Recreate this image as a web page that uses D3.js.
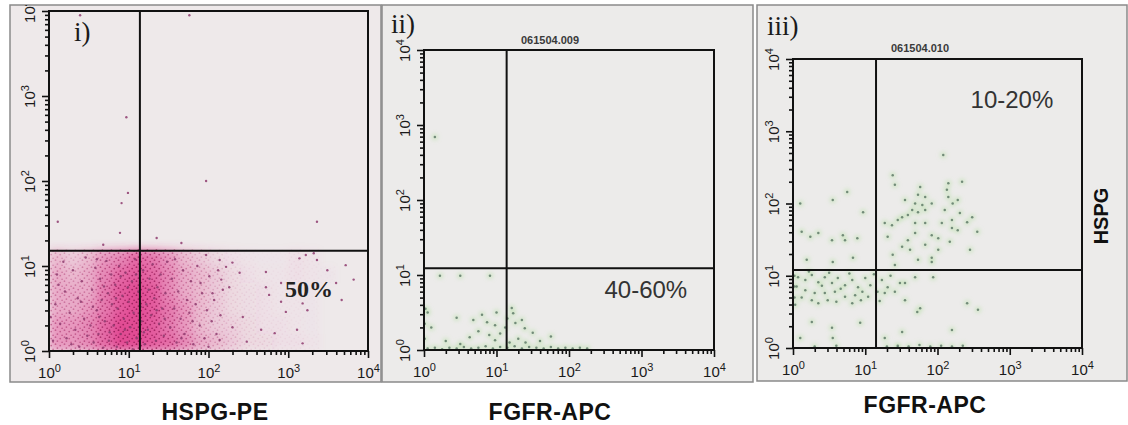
<!DOCTYPE html>
<html>
<head>
<meta charset="utf-8">
<script src="https://cdn.jsdelivr.net/npm/d3@7"></script>
<style>
  body { margin: 0; background: #fff; }
  svg { display: block; }
</style>
</head>
<body>
<div id="chart"></div>
<script>
// tick values and labels
let decades = [1, 10, 100, 1000, 10000]
let panelTags = ['i)', 'ii)', 'iii)']
let fileIds = ['', '061504.009', '061504.010']
let xTitles = ['HSPG-PE', 'FGFR-APC', 'FGFR-APC']
let yTitle = 'HSPG'
let quadrantLabels = ['50%', '40-60%', '10-20%']

// quadrant gates, fluorescence intensity
let gateX = [13.8, 13.8, 14.1]
let gateY = [15.1, 12.3, 12.0]

// panel i) event density, bins of 0.2 decade; rows go up from 10^0, columns go right from 10^0
let hspgDensity = [
  [5, 5, 6, 8, 10, 10, 9, 8, 6, 4, 3, 2, 1, 1, 0.5, 0.5, 0.3, 0, 0, 0],
  [5, 5, 6, 8, 10, 10, 9, 7, 5, 3, 2, 1.5, 1, 0.5, 0.5, 0.3, 0.2, 0, 0, 0],
  [4, 4, 5, 7, 9, 10, 9, 7, 5, 3, 2, 1, 0.8, 0.5, 0.3, 0.3, 0.2, 0, 0, 0],
  [4, 4, 4, 7, 9, 10, 9, 6, 4, 3, 2, 1, 0.8, 0.5, 0.3, 0.3, 0.2, 0, 0, 0],
  [4, 3, 4, 6, 8, 9, 8, 6, 4, 3, 2, 1, 0.5, 0.3, 0.3, 0.5, 0.3, 0.2, 0, 0],
  [3, 2, 3, 5, 6, 8, 7, 5, 3, 2, 1, 0.5, 0.3, 0.2, 0.2, 0.5, 0.3, 0, 0, 0]
]

// single events, as [log10 x, log10 y]
let hspgDots = [
  [0.05, 0.12], [0.08, 0.55], [0.1, 0.9], [0.14, 0.32], [0.18, 1.05], [0.2, 0.7], [0.22, 0.15], [0.26, 0.45],
  [0.3, 0.95], [0.33, 0.25], [0.36, 0.62], [0.38, 0.05], [0.41, 0.82], [0.44, 0.38], [0.46, 1.1], [0.48, 0.18],
  [0.12, 0.78], [0.28, 0.08], [0.4, 0.58], [0.02, 0.4],
  [0.52, 0.3], [0.54, 0.72], [0.56, 0.1], [0.58, 0.98], [0.6, 0.48], [0.62, 0.2], [0.64, 0.85], [0.66, 0.6],
  [0.68, 0.04], [0.7, 0.35], [0.72, 1.06], [0.74, 0.68], [0.76, 0.22], [0.78, 0.9], [0.55, 0.52], [0.63, 0.4],
  [0.69, 0.76], [0.75, 0.12], [0.79, 0.55], [0.6, 1.08],
  [0.81, 0.3], [0.83, 0.78], [0.85, 0.05], [0.86, 0.5], [0.88, 1.0], [0.9, 0.2], [0.92, 0.65], [0.94, 0.38],
  [0.96, 0.92], [0.98, 0.1], [1.0, 0.58], [1.02, 0.28], [1.04, 0.82], [1.06, 0.45], [1.08, 1.08], [1.1, 0.15],
  [1.12, 0.7], [1.16, 0.35], [1.18, 0.95], [1.2, 0.08], [1.22, 0.55], [1.24, 0.25], [1.26, 0.85], [1.28, 0.42],
  [1.3, 1.02], [1.32, 0.62], [1.34, 0.12], [1.36, 0.75], [1.38, 0.32], [1.4, 0.9], [1.42, 0.5], [1.44, 0.18],
  [1.46, 0.68], [1.48, 1.05], [0.84, 0.62], [0.9, 0.88], [0.95, 0.25], [1.05, 0.02], [1.15, 0.52], [1.25, 0.72],
  [1.35, 0.48], [1.45, 0.38], [0.99, 0.75], [1.09, 0.9], [1.19, 0.22],
  [1.52, 0.28], [1.54, 0.85], [1.57, 0.5], [1.6, 0.1], [1.62, 0.7], [1.65, 0.38], [1.68, 0.95], [1.7, 0.2],
  [1.73, 0.6], [1.76, 0.45], [1.78, 0.82], [1.81, 0.08], [1.84, 0.55], [1.86, 1.0], [1.89, 0.3], [1.92, 0.68],
  [1.95, 0.15], [1.98, 0.48], [2.01, 0.88], [2.04, 0.35], [2.07, 0.6], [2.1, 0.2], [2.12, 0.95], [2.15, 0.42],
  [1.58, 1.08], [1.66, 0.15], [1.8, 0.35], [1.9, 0.8], [2.0, 0.05], [2.18, 0.72],
  [2.3, 1.04], [2.22, 0.99], [2.39, 0.92], [2.16, 0.84], [2.72, 0.93], [2.76, 0.66], [2.91, 0.58], [2.97, 0.46],
  [3.14, 1.09], [3.22, 1.13], [3.32, 1.15], [3.36, 1.07], [3.49, 0.95], [3.6, 0.8], [3.72, 1.01], [3.82, 0.84],
  [3.67, 0.6], [3.18, 0.56], [3.24, 0.48], [3.11, 0.25], [2.66, 0.25], [2.83, 0.21], [2.72, 0.75], [2.91, 0.8],
  [3.18, 0.09], [1.97, 1.13], [2.14, 1.07], [2.26, 0.75], [2.05, 0.68], [2.43, 0.4], [2.3, 0.28], [2.14, 0.13],
  [2.48, 0.11],
  [0.39, 3.95], [1.76, 3.95], [0.97, 2.75], [1.97, 2.0], [0.99, 1.86], [0.91, 1.74], [0.11, 1.52], [0.89, 1.39],
  [1.35, 1.33], [1.66, 1.27], [0.68, 1.25], [3.36, 1.52]
]

let fgfrDotsA = [
  [0.05, 0.02], [0.15, 0.03], [0.25, 0.01], [0.35, 0.03], [0.45, 0.02], [0.55, 0.04], [0.65, 0.02], [0.75, 0.03],
  [0.85, 0.05], [0.95, 0.02], [1.05, 0.04], [1.15, 0.03], [1.25, 0.05], [1.35, 0.02], [1.45, 0.04], [1.55, 0.03],
  [1.65, 0.02], [1.75, 0.04], [1.85, 0.02], [1.95, 0.03], [2.05, 0.02], [2.15, 0.03], [2.25, 0.02],
  [0.45, 0.43], [0.8, 0.47], [0.87, 0.37], [0.68, 0.4], [0.98, 0.33], [1.21, 0.56], [1.23, 0.49], [1.26, 0.36],
  [1.39, 0.29], [1.5, 0.23], [0.63, 0.17], [0.98, 0.13], [1.05, 0.22], [0.75, 0.25], [1.12, 0.3], [1.3, 0.15],
  [1.18, 0.1], [0.9, 0.2], [1.6, 0.12], [1.75, 0.18], [0.3, 0.12], [0.5, 0.08], [1.15, 0.42], [1.0, 0.5],
  [1.35, 0.4], [1.4, 0.1], [0.1, 0.3], [0.05, 0.5],
  [0.01, 0.15], [0.01, 0.35], [0.02, 0.55],
  [0.22, 0.99], [0.5, 0.99], [0.91, 0.99], [0.15, 2.84]
]

let fgfrDotsB = [
  [1.41, 2.26], [1.76, 2.23], [2.15, 2.28], [2.34, 2.3], [1.73, 2.12], [1.83, 2.09], [2.13, 2.19], [2.15, 2.09],
  [2.28, 2.05], [2.21, 2.0], [1.55, 2.05], [1.69, 2.0], [1.79, 1.98], [1.92, 2.0], [1.65, 1.91], [1.73, 1.88],
  [1.83, 1.91], [1.51, 1.81], [1.59, 1.84], [2.1, 1.91], [2.31, 1.87], [2.48, 1.81], [1.27, 1.73], [1.37, 1.7],
  [1.45, 1.77], [1.69, 1.73], [1.83, 1.73], [2.06, 1.73], [2.2, 1.77], [2.41, 1.74], [2.2, 1.66], [2.28, 1.63],
  [2.55, 1.61], [1.31, 1.54], [1.69, 1.59], [1.92, 1.56], [2.01, 1.52], [2.17, 1.47], [1.59, 1.49], [1.51, 1.4],
  [1.62, 1.36], [1.83, 1.43], [2.01, 1.36], [2.45, 1.36], [1.38, 1.29], [1.73, 1.22], [1.92, 1.25], [1.92, 1.19],
  [1.41, 1.15], [2.08, 2.67], [1.38, 2.39],
  [0.75, 2.16], [0.55, 2.05], [0.97, 1.88], [0.24, 1.54], [0.12, 1.61], [0.35, 1.59], [0.54, 1.49], [0.69, 1.56],
  [0.89, 1.52], [0.72, 1.49], [0.1, 2.0], [0.19, 1.22], [0.55, 1.19], [0.83, 1.25],
  [0.07, 0.98], [0.17, 0.94], [0.26, 1.01], [0.35, 0.91], [0.44, 0.98], [0.54, 0.9], [0.62, 0.97], [0.72, 0.87],
  [0.82, 0.94], [0.9, 0.84], [1.0, 0.97], [1.07, 0.87], [1.23, 0.94], [1.31, 0.84], [1.41, 0.78], [1.48, 0.9],
  [0.17, 0.8], [0.3, 0.76], [0.44, 0.76], [0.58, 0.78], [0.72, 0.71], [0.86, 0.73], [0.96, 0.78], [0.48, 0.66],
  [0.26, 0.66], [0.82, 0.62], [1.04, 0.71], [1.27, 0.76], [1.55, 0.66],
  [0.05, 0.85], [0.12, 0.7], [0.22, 1.06], [0.4, 0.86], [0.5, 1.04], [0.66, 0.82], [0.78, 1.03], [0.94, 0.66],
  [1.12, 1.02], [1.17, 0.78], [1.35, 1.0], [0.35, 0.62], [0.6, 0.64], [1.2, 0.65],
  [0.26, 0.36], [0.54, 0.28], [0.93, 0.35], [0.1, 0.14], [0.55, 0.14], [1.27, 0.14], [1.51, 0.22], [1.72, 0.5],
  [1.76, 0.55], [1.94, 0.98], [2.2, 0.25], [2.41, 0.62], [2.56, 0.53], [1.69, 0.98], [1.55, 0.9], [1.45, 0.01],
  [1.3, 0.02], [1.45, 0.03], [1.6, 0.02], [1.75, 0.04], [1.9, 0.02], [2.05, 0.03], [2.2, 0.02], [2.35, 0.03],
  [0.3, 0.02], [0.6, 0.03],
  [0.02, 0.7], [0.02, 0.85], [0.02, 1.0], [0.03, 0.6]
]

// page layout
let width = 1128
let height = 425

let panels = [
  {
    frame: { x: 10, y: 5, w: 371, h: 377 },
    plot: { left: 49, top: 11, right: 368, bottom: 351 },
    bg: '#eee9ea',
    tag: { x: 74, y: 41 },
    quad: { x: 10 ** 3.26, y: 10 ** 0.635 },
    quadStyle: 'serif',
    title: { x: 215, y: 420 },
    dots: hspgDots,
    density: hspgDensity,
    color: 'pink'
  },
  {
    frame: { x: 382, y: 5, w: 371, h: 377 },
    plot: { left: 424, top: 50, right: 714, bottom: 350 },
    bg: '#ecebea',
    tag: { x: 391, y: 33 },
    id: { x: 550, y: 44 },
    quad: { x: 10 ** 3.06, y: 10 ** 0.69 },
    title: { x: 550, y: 420 },
    dots: fgfrDotsA,
    color: 'green'
  },
  {
    frame: { x: 757, y: 5, w: 370, h: 376 },
    plot: { left: 793, top: 59, right: 1082, bottom: 348 },
    bg: '#ecebea',
    tag: { x: 767, y: 35 },
    id: { x: 920, y: 52 },
    quad: { x: 10 ** 3.03, y: 10 ** 3.32 },
    title: { x: 925, y: 413 },
    dots: fgfrDotsB,
    color: 'green'
  }
]

let svg = d3
  .select('#chart')
  .append('svg')
  .attr('width', width)
  .attr('height', height)

let defs = svg.append('defs')

defs
  .append('filter')
  .attr('id', 'haze')
  .attr('x', '-20%')
  .attr('y', '-20%')
  .attr('width', '140%')
  .attr('height', '140%')
  .append('feGaussianBlur')
  .attr('stdDeviation', 4)

defs
  .append('filter')
  .attr('id', 'glow')
  .append('feGaussianBlur')
  .attr('stdDeviation', 2.2)

// speckle texture for the dense pink cloud
let speck = defs
  .append('pattern')
  .attr('id', 'speck')
  .attr('patternUnits', 'userSpaceOnUse')
  .attr('width', 9)
  .attr('height', 7)
speck.append('circle').attr('cx', 1.5).attr('cy', 1.2).attr('r', 0.9).attr('fill', '#a0225f')
speck.append('circle').attr('cx', 6.2).attr('cy', 2.6).attr('r', 0.9).attr('fill', '#a0225f')
speck.append('circle').attr('cx', 3.4).attr('cy', 5.1).attr('r', 0.9).attr('fill', '#a0225f')
speck.append('circle').attr('cx', 8.1).attr('cy', 6.3).attr('r', 0.8).attr('fill', '#a0225f')

function superscript(sel, exp, size) {
  sel.text(null)
  sel.append('tspan').text('10')
  sel
    .append('tspan')
    .attr('dy', -6)
    .attr('font-size', size)
    .text(exp)
}

panels.forEach((p, i) => {
  let g = svg.append('g').attr('class', 'panel')

  g.append('rect')
    .attr('x', p.frame.x)
    .attr('y', p.frame.y)
    .attr('width', p.frame.w)
    .attr('height', p.frame.h)
    .attr('fill', p.bg)
    .attr('stroke', '#8a8a8a')
    .attr('stroke-width', 1.5)

  let clipId = 'clip-' + i
  defs
    .append('clipPath')
    .attr('id', clipId)
    .append('rect')
    .attr('x', p.plot.left)
    .attr('y', p.plot.top)
    .attr('width', p.plot.right - p.plot.left)
    .attr('height', p.plot.bottom - p.plot.top)

  let frameClip = 'frameclip-' + i
  defs
    .append('clipPath')
    .attr('id', frameClip)
    .append('rect')
    .attr('x', p.frame.x)
    .attr('y', p.frame.y)
    .attr('width', p.frame.w)
    .attr('height', p.frame.h)

  let x = d3
    .scaleLog()
    .domain([1, 10000])
    .range([p.plot.left, p.plot.right])
  let y = d3
    .scaleLog()
    .domain([1, 10000])
    .range([p.plot.bottom, p.plot.top])

  let data = g.append('g').attr('clip-path', `url(#${clipId})`)

  // density haze (panel i only)
  if (p.density) {
    let cells = []
    p.density.forEach((row, r) => {
      row.forEach((v, c) => {
        if (v > 0) cells.push({ r, c, v })
      })
    })
    let cellX = d => x(10 ** (d.c * 0.2))
    let cellY = d => y(10 ** ((d.r + 1) * 0.2))
    let cellW = d => x(10 ** ((d.c + 1) * 0.2)) - x(10 ** (d.c * 0.2))
    let cellH = d => y(10 ** (d.r * 0.2)) - y(10 ** ((d.r + 1) * 0.2))

    data
      .append('g')
      .attr('filter', 'url(#haze)')
      .selectAll('rect')
      .data(cells)
      .enter()
      .append('rect')
      .attr('x', cellX)
      .attr('y', cellY)
      .attr('width', cellW)
      .attr('height', cellH)
      .attr('fill', '#e0388a')
      .attr('fill-opacity', d => Math.min(0.9, d.v * 0.09))

    data
      .append('g')
      .selectAll('rect')
      .data(cells)
      .enter()
      .append('rect')
      .attr('x', cellX)
      .attr('y', cellY)
      .attr('width', cellW)
      .attr('height', cellH)
      .attr('fill', 'url(#speck)')
      .attr('fill-opacity', d => Math.min(1, d.v * 0.1))
  }

  let pts = p.dots.map(d => ({ x: 10 ** d[0], y: 10 ** d[1] }))

  if (p.color === 'green') {
    data
      .append('g')
      .attr('filter', 'url(#glow)')
      .selectAll('circle')
      .data(pts)
      .enter()
      .append('circle')
      .attr('cx', d => x(d.x))
      .attr('cy', d => y(d.y))
      .attr('r', 3)
      .attr('fill', '#a3dc8f')
      .attr('fill-opacity', 0.45)
  }

  data
    .append('g')
    .selectAll('circle')
    .data(pts)
    .enter()
    .append('circle')
    .attr('cx', d => x(d.x))
    .attr('cy', d => y(d.y))
    .attr('r', p.color === 'green' ? 1.25 : 1.2)
    .attr('fill', p.color === 'green' ? '#5f7a68' : '#8e3b6e')
    .attr('fill-opacity', 0.85)

  // quadrant gates
  g.append('line')
    .attr('x1', x(gateX[i]))
    .attr('x2', x(gateX[i]))
    .attr('y1', p.plot.top)
    .attr('y2', p.plot.bottom)
    .attr('stroke', '#111')
    .attr('stroke-width', 2)
  g.append('line')
    .attr('x1', p.plot.left)
    .attr('x2', p.plot.right)
    .attr('y1', y(gateY[i]))
    .attr('y2', y(gateY[i]))
    .attr('stroke', '#111')
    .attr('stroke-width', 2)

  g.append('rect')
    .attr('x', p.plot.left)
    .attr('y', p.plot.top)
    .attr('width', p.plot.right - p.plot.left)
    .attr('height', p.plot.bottom - p.plot.top)
    .attr('fill', 'none')
    .attr('stroke', '#111')
    .attr('stroke-width', 2)

  // axes: unlabelled minor ticks, then labelled decades
  let axes = g.append('g').attr('clip-path', `url(#${frameClip})`)
  let minor = x.ticks().filter(t => !decades.includes(t))

  axes
    .append('g')
    .attr('transform', `translate(0,${p.plot.bottom})`)
    .call(d3.axisBottom(x).tickValues(minor).tickSize(4).tickFormat(() => ''))
  let xMajor = axes
    .append('g')
    .attr('class', 'major')
    .attr('transform', `translate(0,${p.plot.bottom})`)
    .call(
      d3
        .axisBottom(x)
        .tickValues(decades)
        .tickSize(7)
        .tickFormat(d => d)
    )

  axes
    .append('g')
    .attr('transform', `translate(${p.plot.left},0)`)
    .call(d3.axisLeft(y).tickValues(minor).tickSize(4).tickFormat(() => ''))
  let yMajor = axes
    .append('g')
    .attr('class', 'major')
    .attr('transform', `translate(${p.plot.left},0)`)
    .call(
      d3
        .axisLeft(y)
        .tickValues(decades)
        .tickSize(7)
        .tickFormat(d => d)
    )

  axes.selectAll('.domain').remove()
  axes.selectAll('.tick line').attr('stroke', '#111').attr('stroke-width', 1.6)

  xMajor
    .selectAll('.tick text')
    .attr('font-family', 'Liberation Sans, Arial, sans-serif')
    .attr('font-size', 15)
    .attr('fill', '#1a1a1a')
    .attr('text-anchor', 'middle')
    .attr('y', 27)
    .attr('dy', 0)
    .each(function(d) {
      superscript(d3.select(this), Math.round(Math.log10(d)), 11)
    })

  yMajor
    .selectAll('.tick text')
    .attr('font-family', 'Liberation Sans, Arial, sans-serif')
    .attr('font-size', 15)
    .attr('fill', '#1a1a1a')
    .attr('x', 0)
    .attr('y', 0)
    .attr('dy', 0)
    .attr('text-anchor', 'middle')
    .attr('transform', 'translate(-14,0) rotate(-90)')
    .each(function(d) {
      superscript(d3.select(this), Math.round(Math.log10(d)), 11)
    })

  // panel tag
  g.append('text')
    .attr('x', p.tag.x)
    .attr('y', p.tag.y)
    .attr('font-family', 'Liberation Serif, Times New Roman, serif')
    .attr('font-size', 27)
    .attr('fill', '#1a1a1a')
    .text(panelTags[i])

  if (p.id) {
    g.append('text')
      .attr('x', p.id.x)
      .attr('y', p.id.y)
      .attr('text-anchor', 'middle')
      .attr('font-family', 'Liberation Sans, Arial, sans-serif')
      .attr('font-size', 11)
      .attr('font-weight', 'bold')
      .attr('fill', '#3a3a3a')
      .text(fileIds[i])
  }

  // quadrant percentage
  let q = g
    .append('text')
    .attr('x', x(p.quad.x))
    .attr('y', y(p.quad.y))
    .attr('text-anchor', 'middle')
    .text(quadrantLabels[i])
  if (p.quadStyle === 'serif') {
    q.attr('font-family', 'Liberation Serif, Times New Roman, serif')
      .attr('font-weight', 'bold')
      .attr('font-size', 24)
      .attr('fill', '#222')
  } else {
    q.attr('font-family', 'Liberation Sans, Arial, sans-serif')
      .attr('font-size', 24)
      .attr('fill', '#333')
  }

  // x-axis title under each panel
  svg
    .append('text')
    .attr('x', p.title.x)
    .attr('y', p.title.y)
    .attr('text-anchor', 'middle')
    .attr('font-family', 'Liberation Sans, Arial, sans-serif')
    .attr('font-weight', 'bold')
    .attr('font-size', 23)
    .attr('letter-spacing', 0.5)
    .attr('fill', '#111')
    .text(xTitles[i])
})

// y-axis title on the right of panel iii
svg
  .append('text')
  .attr('transform', 'translate(1108,216) rotate(-90)')
  .attr('text-anchor', 'middle')
  .attr('font-family', 'Liberation Sans, Arial, sans-serif')
  .attr('font-weight', 'bold')
  .attr('font-size', 20)
  .attr('fill', '#111')
  .text(yTitle)
</script>
</body>
</html>
